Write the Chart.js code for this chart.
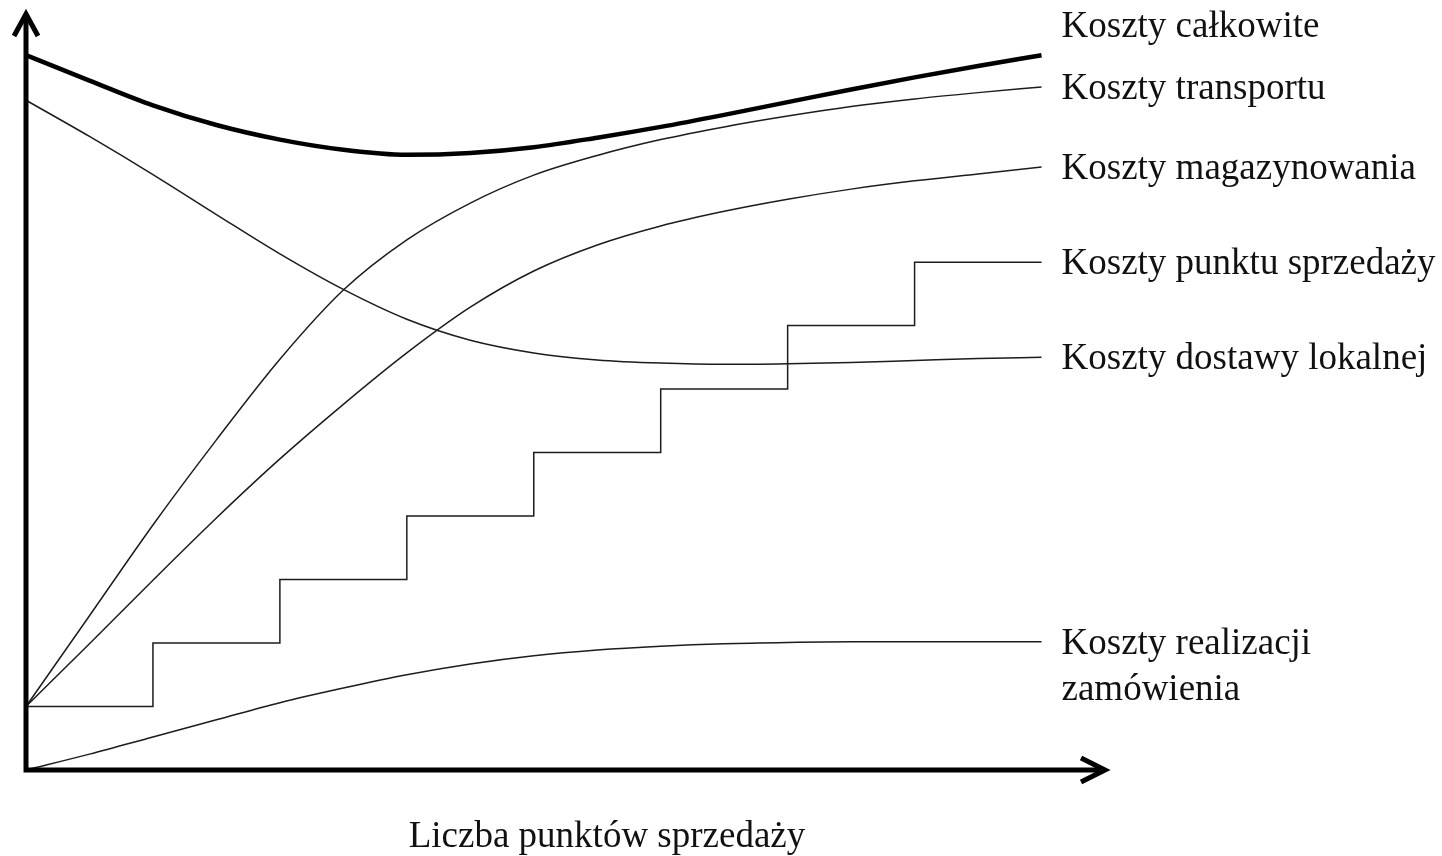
<!DOCTYPE html>
<html lang="pl">
<head>
  <meta charset="UTF-8">
  <title>Koszty a liczba punktów sprzedaży</title>
  <style>
    body {
      margin: 0;
      background: #fff;
    }
    .wrap {
      width: 1442px;
      height: 856px;
      position: relative;
    }
  </style>
  <script src="https://cdn.jsdelivr.net/npm/chart.js"></script>
</head>
<body>
  <div class="wrap">
    <canvas id="costChart"></canvas>
  </div>

  <script>
    // x = liczba punktów sprzedaży (umowne jednostki), y = koszty (umowne jednostki)
    const xs = [0, 0.5, 1, 1.5, 2, 2.5, 3, 3.5, 4, 4.5, 5, 5.5, 6, 6.5, 7, 7.5, 8];

    const total     = [11.26, 10.86, 10.47, 10.16, 9.93, 9.77, 9.69, 9.72, 9.81, 9.96, 10.13, 10.32, 10.52, 10.72, 10.91, 11.09, 11.26];
    const transport = [1.0, 2.43, 3.86, 5.20, 6.47, 7.56, 8.35, 8.93, 9.37, 9.68, 9.93, 10.13, 10.30, 10.45, 10.57, 10.67, 10.76];
    const storage   = [1.0, 1.99, 2.99, 3.97, 4.90, 5.76, 6.57, 7.29, 7.86, 8.27, 8.57, 8.80, 8.99, 9.15, 9.28, 9.39, 9.50];
    const delivery  = [10.55, 9.98, 9.38, 8.75, 8.13, 7.57, 7.10, 6.77, 6.57, 6.46, 6.41, 6.39, 6.40, 6.42, 6.45, 6.48, 6.50];
    const orders    = [0, 0.25, 0.52, 0.79, 1.06, 1.29, 1.50, 1.67, 1.80, 1.89, 1.95, 1.99, 2.01, 2.02, 2.02, 2.02, 2.02];

    const outletX = [0, 1, 2, 3, 4, 5, 6, 7, 8];
    const outlet  = [1, 2, 3, 4, 5, 6, 7, 8, 8];

    const labels = [
      ['Koszty całkowite'],
      ['Koszty transportu'],
      ['Koszty magazynowania'],
      ['Koszty punktu sprzedaży'],
      ['Koszty dostawy lokalnej'],
      ['Koszty realizacji', 'zamówienia']
    ];
    const xTitle = 'Liczba punktów sprzedaży';

    const toPoints = (xv, yv) => xv.map((x, i) => ({ x: x, y: yv[i] }));

    const curve = (data, width) => ({
      data: data,
      borderColor: width > 2 ? '#000' : '#1c1c1c',
      borderWidth: width,
      pointRadius: 0,
      cubicInterpolationMode: 'monotone',
      clip: false
    });

    const FONT = '37px "Liberation Serif", "Times New Roman", serif';

    // osie ze strzałkami, podpisy krzywych i opis osi X
    const decorations = {
      id: 'decorations',
      afterDatasetsDraw(chart) {
        const { ctx, chartArea: a, scales } = chart;
        const x = scales.x, y = scales.y;
        ctx.save();
        ctx.strokeStyle = '#000';
        ctx.lineWidth = 5;
        ctx.lineJoin = 'miter';
        ctx.beginPath();
        ctx.moveTo(a.left, a.top + 3);
        ctx.lineTo(a.left, a.bottom);
        ctx.lineTo(a.right - 2, a.bottom);
        ctx.stroke();
        // strzałka pionowa
        ctx.beginPath();
        ctx.moveTo(a.left - 12, a.top + 24);
        ctx.lineTo(a.left, a.top + 2);
        ctx.lineTo(a.left + 12, a.top + 24);
        ctx.stroke();
        // strzałka pozioma
        ctx.beginPath();
        ctx.moveTo(a.right - 24, a.bottom - 12);
        ctx.lineTo(a.right, a.bottom);
        ctx.lineTo(a.right - 24, a.bottom + 12);
        ctx.stroke();

        ctx.fillStyle = '#111';
        ctx.font = FONT;
        ctx.textBaseline = 'alphabetic';
        ctx.textAlign = 'left';
        const lx = x.getPixelForValue(8) + 20;
        const ends = [total, transport, storage, outlet, delivery, orders];
        const dy = [-18, 12, 12, 12, 12, 12];
        labels.forEach((lines, i) => {
          const s = ends[i];
          const base = y.getPixelForValue(s[s.length - 1]) + dy[i];
          lines.forEach((t, j) => ctx.fillText(t, lx, base + j * 46));
        });

        ctx.textAlign = 'center';
        ctx.fillText(xTitle, 607, a.bottom + 77);
        ctx.restore();
      }
    };

    new Chart(document.getElementById('costChart'), {
      type: 'line',
      data: {
        datasets: [
          curve(toPoints(xs, total), 4.5),
          curve(toPoints(xs, transport), 1.5),
          curve(toPoints(xs, storage), 1.5),
          Object.assign(curve(toPoints(outletX, outlet), 1.5), { stepped: 'before', cubicInterpolationMode: 'default' }),
          curve(toPoints(xs, delivery), 1.5),
          curve(toPoints(xs, orders), 1.5)
        ]
      },
      options: {
        responsive: true,
        maintainAspectRatio: false,
        animation: false,
        layout: { padding: { left: 26, right: 337, top: 12, bottom: 86 } },
        scales: {
          x: { type: 'linear', min: 0, max: 8.5, display: false },
          y: { min: 0, max: 11.94, display: false }
        },
        plugins: {
          legend: { display: false },
          tooltip: { enabled: false }
        }
      },
      plugins: [decorations]
    });
  </script>
</body>
</html>
